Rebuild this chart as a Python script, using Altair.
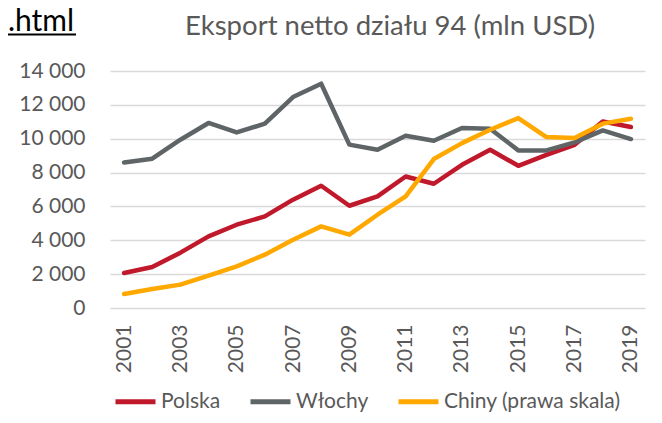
import altair as alt
import pandas as pd

years = [str(y) for y in range(2001, 2020)]
polska = [2070, 2420, 3270, 4230, 4920, 5410, 6400, 7220, 6040, 6590, 7770, 7340, 8460, 9350, 8400, 9050, 9640, 11020, 10690]
wlochy = [8600, 8820, 9940, 10930, 10370, 10890, 12460, 13250, 9650, 9350, 10180, 9880, 10630, 10590, 9310, 9310, 9780, 10490, 9980]
chiny = [830, 1120, 1380, 1910, 2460, 3150, 4030, 4820, 4330, 5510, 6590, 8800, 9740, 10530, 11220, 10100, 10040, 10890, 11180]
series_names = ["Polska", "Włochy", "Chiny (prawa skala)"]
series_colors = ["#C0192B", "#5F6567", "#FFA800"]
title_text = "Eksport netto działu 94 (mln USD)"
link_text = ".html"
y_ticks = [0, 2000, 4000, 6000, 8000, 10000, 12000, 14000]
x_label_years = [str(y) for y in range(2001, 2020, 2)]

rows = []
for name, vals in zip(series_names, [polska, wlochy, chiny]):
    for yr, v in zip(years, vals):
        rows.append({"Rok": yr, "Wartość": v, "Seria": name})
df = pd.DataFrame(rows)

FONT = "Lato"
GREY = "#595959"

color = alt.Color(
    "Seria:N",
    scale=alt.Scale(domain=series_names, range=series_colors),
    legend=alt.Legend(
        title=None, orient="none", legendX=3, legendY=308, direction="horizontal",
        symbolType="stroke", symbolSize=1600, symbolStrokeWidth=5,
        labelFont=FONT, labelFontSize=21, labelColor=GREY, labelOffset=3,
        columnPadding=19, labelLimit=400,
    ),
)

x = alt.X(
    "Rok:O",
    scale=alt.Scale(domain=years, padding=0.5),
    axis=alt.Axis(
        title=None, values=x_label_years, labelAngle=-90, labelFont=FONT, labelFontSize=21,
        labelColor=GREY, domain=False, ticks=False, labelPadding=16, grid=False,
        labelBaseline="middle", labelAlign="right",
    ),
)
y = alt.Y(
    "Wartość:Q",
    scale=alt.Scale(domain=[0, 14000], nice=False),
    axis=alt.Axis(
        title=None, values=y_ticks, labelFont=FONT, labelFontSize=21, labelColor=GREY,
        domain=False, ticks=False, labelPadding=25, gridColor="#D9D9D9", gridWidth=1.5,
        labelExpr="replace(format(datum.value, ','), ',', ' ')",
    ),
)

layers = []
for name in series_names:
    layers.append(
        alt.Chart(df).transform_filter(alt.datum.Seria == name)
        .mark_line(strokeWidth=4.5, strokeJoin="round", strokeCap="round")
        .encode(x=x, y=y, color=color)
    )

txt_df = pd.DataFrame({"t": [title_text]})
title_mark = alt.Chart(txt_df).mark_text(
    font=FONT, fontSize=27.5, color=GREY, align="center", baseline="alphabetic"
).encode(text="t:N", x=alt.value(280), y=alt.value(-36))

link_df = pd.DataFrame({"t": [link_text]})
link_mark = alt.Chart(link_df).mark_text(
    font=FONT, fontSize=30, color="#000000", align="left", baseline="alphabetic"
).encode(text="t:N", x=alt.value(-102), y=alt.value(-40))
link_rule = alt.Chart(link_df).mark_rule(color="#000000", strokeWidth=2).encode(
    x=alt.value(-102), x2=alt.value(-34), y=alt.value(-36.5)
)

chart = alt.layer(*layers, title_mark, link_mark, link_rule).properties(
    width=535, height=237,
    autosize=alt.AutoSizeParams(type="none"),
    padding={"left": 102, "top": 63, "right": 9, "bottom": 107},
).configure_view(stroke=None)

chart.save("out.html", embed_options={"renderer": "svg", "actions": False})
